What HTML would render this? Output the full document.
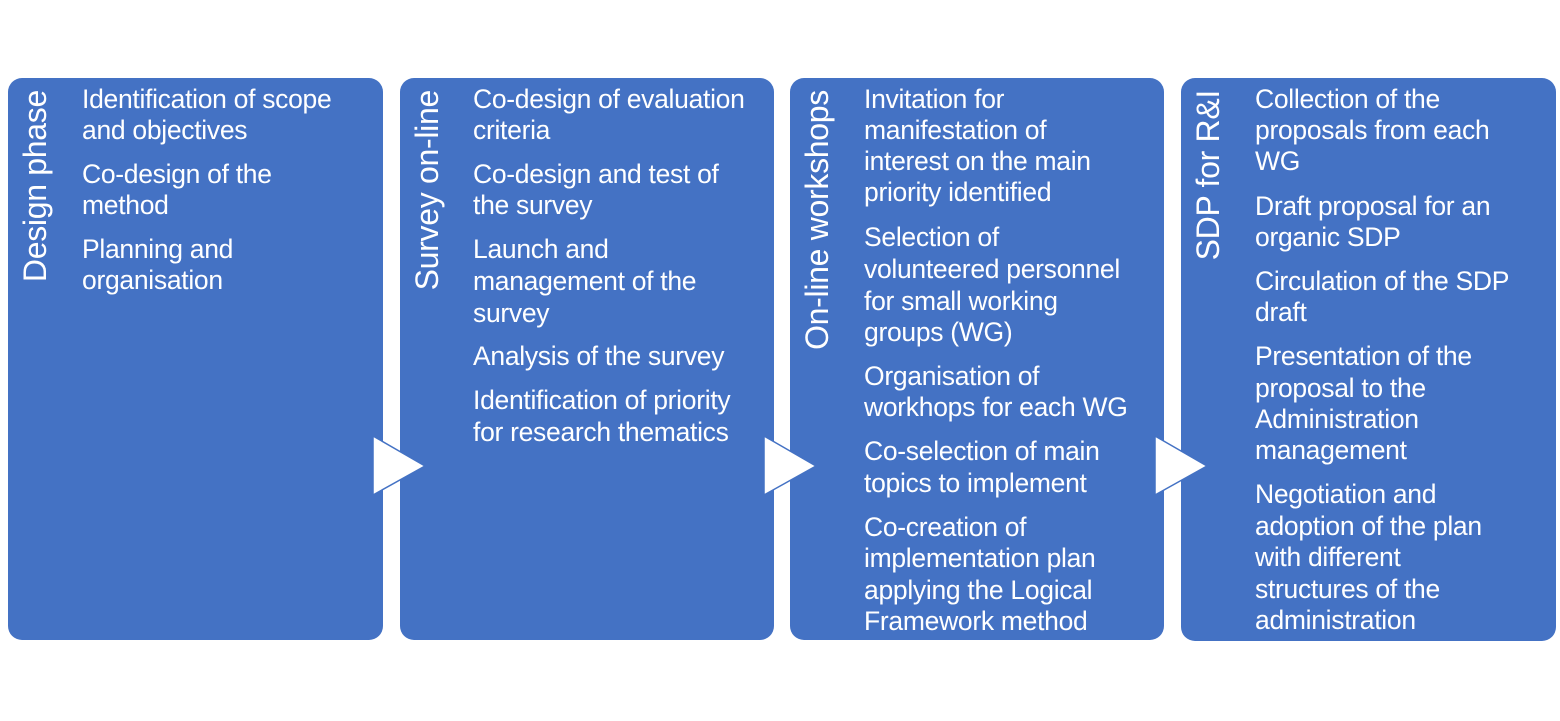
<!DOCTYPE html>
<html><head><meta charset="utf-8"><style>
body{margin:0;width:1560px;height:721px;background:#fff;position:relative;overflow:hidden;font-family:"Liberation Sans",sans-serif;color:#fff}
.b{position:absolute;top:78px;height:562px;width:375px;background:#4472C4;border-radius:14px}
.l{position:absolute;font-size:26.5px;line-height:30px;white-space:nowrap;letter-spacing:-0.3px}
.v{position:absolute;top:90px;writing-mode:vertical-rl;transform:rotate(180deg);font-size:32px;line-height:34px;white-space:nowrap;letter-spacing:-0.3px}
svg{position:absolute;left:0;top:0}
</style></head><body>
<div class="b" style="left:8px"></div>
<div class="b" style="left:400px;width:374px"></div>
<div class="b" style="left:790px;width:374px"></div>
<div class="b" style="left:1181px;width:375px;height:563px"></div>
<svg width="1560" height="721">
<polygon points="373,436 425,466 373,495" fill="#fff" stroke="#4472C4" stroke-width="1.5"/>
<polygon points="764,436 816,466 764,495" fill="#fff" stroke="#4472C4" stroke-width="1.5"/>
<polygon points="1155,436 1207,466 1155,495" fill="#fff" stroke="#4472C4" stroke-width="1.5"/>
</svg>
<div class="v" style="left:18px">Design phase</div>
<div class="v" style="left:410px">Survey on-line</div>
<div class="v" style="left:800px">On-line workshops</div>
<div class="v" style="left:1191px">SDP for R&amp;I</div>

<div class="l" style="left:82px;top:84px">Identification of scope</div>
<div class="l" style="left:82px;top:115px">and objectives</div>
<div class="l" style="left:82px;top:159px">Co-design of the</div>
<div class="l" style="left:82px;top:190px">method</div>
<div class="l" style="left:82px;top:234px">Planning and</div>
<div class="l" style="left:82px;top:265px">organisation</div>

<div class="l" style="left:473px;top:84px">Co-design of evaluation</div>
<div class="l" style="left:473px;top:115px">criteria</div>
<div class="l" style="left:473px;top:159px">Co-design and test of</div>
<div class="l" style="left:473px;top:190px">the survey</div>
<div class="l" style="left:473px;top:234px">Launch and</div>
<div class="l" style="left:473px;top:266px">management of the</div>
<div class="l" style="left:473px;top:298px">survey</div>
<div class="l" style="left:473px;top:341px">Analysis of the survey</div>
<div class="l" style="left:473px;top:385px">Identification of priority</div>
<div class="l" style="left:473px;top:417px">for research thematics</div>

<div class="l" style="left:864px;top:84px">Invitation for</div>
<div class="l" style="left:864px;top:115px">manifestation of</div>
<div class="l" style="left:864px;top:146px">interest on the main</div>
<div class="l" style="left:864px;top:177px">priority identified</div>
<div class="l" style="left:864px;top:222px">Selection of</div>
<div class="l" style="left:864px;top:254px">volunteered personnel</div>
<div class="l" style="left:864px;top:286px">for small working</div>
<div class="l" style="left:864px;top:317px">groups (WG)</div>
<div class="l" style="left:864px;top:361px">Organisation of</div>
<div class="l" style="left:864px;top:392px">workhops for each WG</div>
<div class="l" style="left:864px;top:436px">Co-selection of main</div>
<div class="l" style="left:864px;top:468px">topics to implement</div>
<div class="l" style="left:864px;top:512px">Co-creation of</div>
<div class="l" style="left:864px;top:543px">implementation plan</div>
<div class="l" style="left:864px;top:575px">applying the Logical</div>
<div class="l" style="left:864px;top:606px">Framework method</div>

<div class="l" style="left:1255px;top:84px">Collection of the</div>
<div class="l" style="left:1255px;top:115px">proposals from each</div>
<div class="l" style="left:1255px;top:146px">WG</div>
<div class="l" style="left:1255px;top:191px">Draft proposal for an</div>
<div class="l" style="left:1255px;top:222px">organic SDP</div>
<div class="l" style="left:1255px;top:266px">Circulation of the SDP</div>
<div class="l" style="left:1255px;top:297px">draft</div>
<div class="l" style="left:1255px;top:341px">Presentation of the</div>
<div class="l" style="left:1255px;top:373px">proposal to the</div>
<div class="l" style="left:1255px;top:404px">Administration</div>
<div class="l" style="left:1255px;top:435px">management</div>
<div class="l" style="left:1255px;top:479px">Negotiation and</div>
<div class="l" style="left:1255px;top:511px">adoption of the plan</div>
<div class="l" style="left:1255px;top:542px">with different</div>
<div class="l" style="left:1255px;top:574px">structures of the</div>
<div class="l" style="left:1255px;top:605px">administration</div>
</body></html>
